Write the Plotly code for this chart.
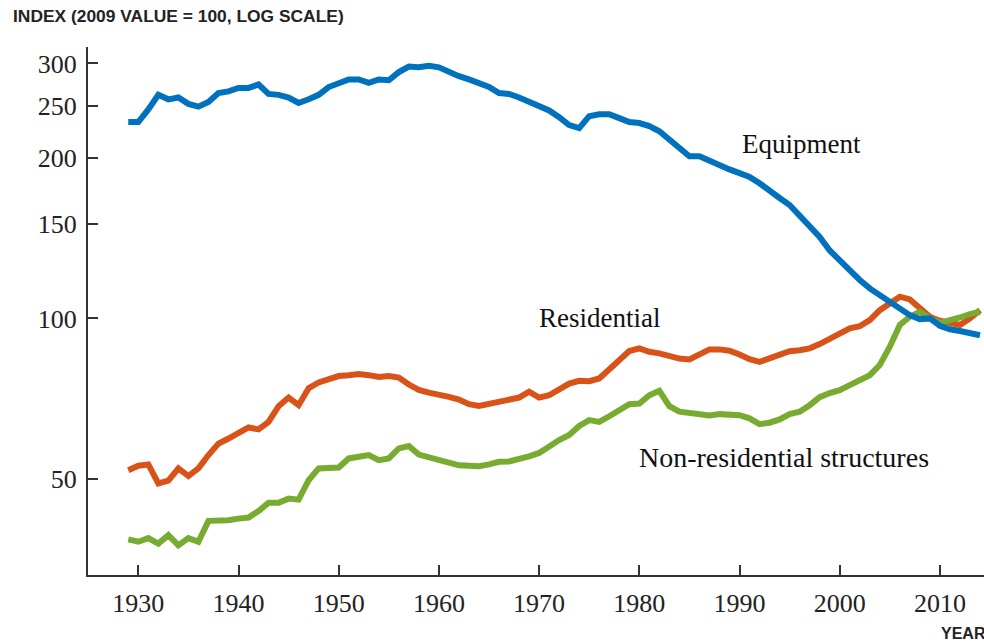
import math
import plotly.graph_objects as go

years = list(range(1929, 2015))

equipment = [233, 233, 246, 262, 257, 259, 252, 249, 254, 264,
             266, 270, 270, 274, 263, 262, 259, 253, 257, 262,
             271, 276, 280, 280, 276, 280, 279, 289, 296, 295,
             297, 295, 289, 284, 280, 275, 271, 264, 263, 259,
             254, 250, 245, 238, 230, 227, 239, 241, 241, 237,
             233, 232, 229, 224, 216, 208, 201, 201, 197, 194,
             190, 187, 184, 179, 173, 168, 163, 156, 149.5, 142,
             134, 128.5, 122.3, 118, 113.8, 110.5, 107.4, 104.4, 101.4, 99.7,
             100, 96.9, 95.4, 94.7, 94.0, 93.0]

residential = [52.0, 53.0, 53.3, 49.1, 49.7, 52.4, 50.7, 52.4, 55.5, 58.3,
               59.6, 60.9, 62.5, 62.0, 64.0, 68.5, 71.1, 68.8, 74.0, 75.9,
               76.9, 78.0, 78.3, 78.7, 78.3, 77.7, 78.0, 77.5, 75.2, 73.5,
               72.6, 72.1, 71.3, 70.5, 69.1, 68.6, 69.3, 70.0, 70.3, 71.1,
               72.9, 71.1, 71.8, 73.4, 75.5, 76.4, 76.3, 77.2, 80.3, 83.9,
               86.9, 87.9, 86.6, 86.0, 84.8, 84.1, 83.8, 85.7, 87.5, 87.5,
               87.0, 85.6, 83.9, 82.9, 84.3, 85.6, 86.8, 87.2, 87.9, 89.5,
               91.7, 93.7, 95.8, 96.7, 99.3, 103.6, 107.0, 109.8, 108.5, 104.4,
               100.7, 99.0, 97.9, 97.2, 100.0, 103.6]

nonres = [38.6, 38.2, 38.8, 37.9, 39.3, 37.6, 38.8, 38.2, 41.8, 41.8,
          41.9, 42.2, 42.4, 43.6, 45.2, 45.2, 46.0, 45.8, 49.8, 52.4,
          52.4, 52.6, 54.7, 55.0, 55.5, 54.3, 54.7, 57.1, 57.7, 55.6,
          55.0, 54.3, 53.5, 53.1, 53.0, 52.9, 53.3, 53.9, 54.0, 54.5,
          55.2, 56.0, 57.7, 59.2, 60.5, 62.9, 64.5, 64.0, 65.6, 67.1,
          69.1, 69.3, 71.8, 73.2, 68.5, 66.9, 66.4, 66.2, 65.8, 66.2,
          66.2, 65.9, 65.0, 63.4, 63.8, 64.7, 66.2, 66.9, 68.8, 71.2,
          72.5, 73.4, 75.0, 76.9, 78.3, 81.8, 88.5, 97.2, 100.7, 102.9,
          100, 98.1, 99.0, 100.4, 101.9, 102.9]

x_ticks = [1930, 1940, 1950, 1960, 1970, 1980, 1990, 2000, 2010]
y_ticks = [50, 100, 150, 200, 250, 300]
y_tick_labels = ["50", "100", "150", "200", "250", "300"]

labels = [
    # text, year, value, font size
    ("Equipment", 1990.0, 212, 27),
    ("Residential", 1969.75, 100.3, 27),
    ("Non-residential structures", 1979.75, 54.8, 28),
]

W, H = 984, 644
L, R, T, B = 88, 0, 47, 69

BLUE = "#0072BD"
ORANGE = "#D95319"
GREEN = "#77AC30"
SERIF = "Liberation Serif, Times New Roman, serif"
SANS = "Liberation Sans, Arial, sans-serif"

fig = go.Figure()
fig.add_trace(go.Scatter(x=years, y=residential, mode="lines",
                         line=dict(color=ORANGE, width=6), name="Residential"))
fig.add_trace(go.Scatter(x=years, y=nonres, mode="lines",
                         line=dict(color=GREEN, width=6), name="Non-residential structures"))
fig.add_trace(go.Scatter(x=years, y=equipment, mode="lines",
                         line=dict(color=BLUE, width=6), name="Equipment"))

for text, xv, yv, fs in labels:
    fig.add_annotation(x=xv, y=math.log10(yv), xref="x", yref="y", text=text,
                       showarrow=False, xanchor="left", yanchor="middle",
                       font=dict(family=SERIF, size=fs, color="#111"))

pw = W - L - R
ph = H - T - B


def px(xp):
    return (xp - L) / pw


def py(yp):
    return (H - B - yp) / ph


fig.add_annotation(x=px(11), y=py(16.5), xref="paper", yref="paper",
                   text="<b>INDEX (2009 VALUE = 100, LOG SCALE)</b>", showarrow=False,
                   xanchor="left", yanchor="middle",
                   font=dict(family=SANS, size=17.4, color="#222"))
fig.add_annotation(x=px(939), y=py(633), xref="paper", yref="paper",
                   text="<b>YEAR</b>", showarrow=False,
                   xanchor="left", yanchor="middle",
                   font=dict(family=SANS, size=16, color="#222"))

fig.update_layout(
    width=W, height=H,
    margin=dict(l=L, r=R, t=T, b=B),
    plot_bgcolor="white", paper_bgcolor="white",
    showlegend=False,
    xaxis=dict(range=[1924.98, 2014.4], tickvals=x_ticks, showgrid=False, zeroline=False,
               showline=True, linecolor="#333", linewidth=2,
               ticks="inside", ticklen=10, tickwidth=2, tickcolor="#333",
               tickfont=dict(family=SERIF, size=26, color="#222"), ticklabelstandoff=4),
    yaxis=dict(type="log", range=[math.log10(33.1), math.log10(322)],
               tickvals=y_ticks, ticktext=y_tick_labels, showgrid=False, zeroline=False,
               showline=True, linecolor="#333", linewidth=2,
               ticks="inside", ticklen=10, tickwidth=2, tickcolor="#333",
               tickfont=dict(family=SERIF, size=26, color="#222"), ticklabelstandoff=4),
)

fig.write_html(
    "out.html",
    config={"displayModeBar": False},
    post_script="document.body.style.margin='0';document.body.style.overflow='hidden';",
)
